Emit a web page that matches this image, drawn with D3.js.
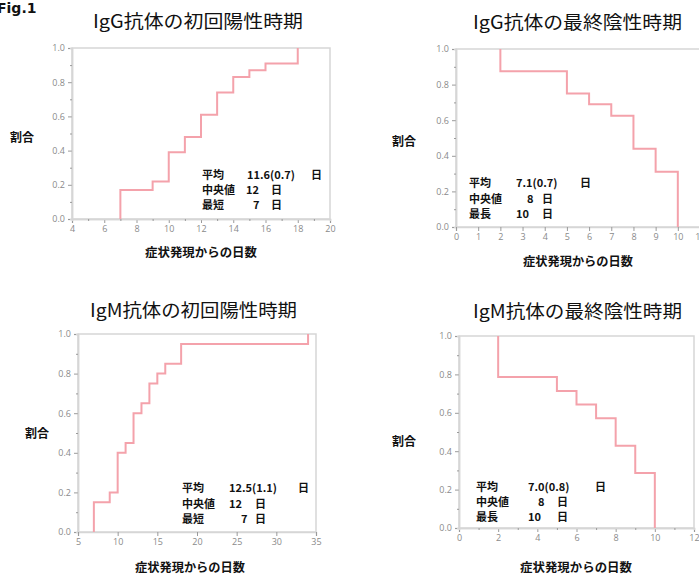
<!DOCTYPE html>
<html><head><meta charset="utf-8">
<script src="https://cdn.jsdelivr.net/npm/d3@7"></script>
<style>
html,body{margin:0;padding:0;background:#fff;overflow:hidden}
svg{display:block}
</style></head>
<body>
<svg id="c" width="699" height="579"></svg>
<script>
// ---- data ----
const titles = ["IgG抗体の初回陽性時期", "IgG抗体の最終陰性時期", "IgM抗体の初回陽性時期", "IgM抗体の最終陰性時期"];
const yLabel = "割合";
const xLabel = "症状発現からの日数";
const figLabel = "Fig.1";

// IgG first positive (cumulative, ascending)
const iggPosDays = [7, 9, 10, 11, 12, 13, 14, 15, 16, 18];
const iggPosRate = [0.17, 0.22, 0.39, 0.48, 0.61, 0.74, 0.83, 0.87, 0.91, 1.0];
// IgG last negative (descending)
const iggNegDays = [2, 5, 6, 7, 8, 9, 10];
const iggNegRate = [0.875, 0.75, 0.69, 0.625, 0.44, 0.31, 0.0];
// IgM first positive
const igmPosDays = [7, 9, 10, 11, 12, 13, 14, 15, 16, 18, 34];
const igmPosRate = [0.15, 0.20, 0.40, 0.45, 0.60, 0.65, 0.75, 0.80, 0.85, 0.95, 1.0];
// IgM last negative
const igmNegDays = [2, 5, 6, 7, 8, 9, 10];
const igmNegRate = [0.786, 0.714, 0.643, 0.571, 0.429, 0.286, 0.0];

const yTicks = [0, 0.2, 0.4, 0.6, 0.8, 1.0];
const xTicks1 = [4, 6, 8, 10, 12, 14, 16, 18, 20];
const xTicks2 = [0, 1, 2, 3, 4, 5, 6, 7, 8, 9, 10, 11];
const xTicks3 = [5, 10, 15, 20, 25, 30, 35];
const xTicks4 = [0, 2, 4, 6, 8, 10, 12];

const statNames1 = ["平均", "中央値", "最短"];
const statNames2 = ["平均", "中央値", "最長"];
const stats1 = ["11.6(0.7)", "12", "7"];
const stats2 = ["7.1(0.7)", "8", "10"];
const stats3 = ["12.5(1.1)", "12", "7"];
const stats4 = ["7.0(0.8)", "8", "10"];
const unit = "日";

// ---- layout ----
const panels = [
  {title: titles[0], days: iggPosDays, rate: iggPosRate, start: 0, xd: [4, 20], xr: [72, 330], yr: [219, 48],
   xt: xTicks1, minorX: true, tx: [93, 303], ty: 28, yl: [10, 142], xl: [145, 257, 257],
   names: statNames1, vals: stats1, sx: 202, sy: [179, 194, 209], vx: [247, 246, 253], ux: [311, 271, 271]},
  {title: titles[1], days: iggNegDays, rate: iggNegRate, start: 1, xd: [0, 11], xr: [456, 700], yr: [227, 49],
   xt: xTicks2, minorX: false, tx: [473, 682], ty: 29, yl: [392, 146], xl: [523, 633, 266],
   names: statNames2, vals: stats2, sx: 469, sy: [187, 203, 218], vx: [516, 527, 516], ux: [580, 542, 542]},
  {title: titles[2], days: igmPosDays, rate: igmPosRate, start: 0, xd: [5, 35], xr: [78, 316], yr: [532, 334],
   xt: xTicks3, minorX: false, tx: [90, 297], ty: 317, yl: [25, 438], xl: [135, 245, 572],
   names: statNames1, vals: stats3, sx: 182, sy: [492, 508, 523], vx: [229, 229, 241], ux: [298, 255, 255]},
  {title: titles[3], days: igmNegDays, rate: igmNegRate, start: 1, xd: [0, 12], xr: [459, 694], yr: [528, 336],
   xt: xTicks4, minorX: true, tx: [473, 682], ty: 318, yl: [392, 446], xl: [520, 632, 572],
   names: statNames2, vals: stats4, sx: 476, sy: [491, 506, 521], vx: [528, 538, 528], ux: [595, 557, 557]}
];

const svg = d3.select("#c");
const CJK = "'Noto Sans CJK JP', 'Noto Sans', sans-serif";
const frameCol = "#d6d6d6";
const tickCol = "#9a9a9a";
const lineCol = "#f4a2ab";

svg.append("text").attr("x", -3).attr("y", 13)
  .attr("font-family", "'DejaVu Sans', sans-serif").attr("font-weight", "bold")
  .attr("font-size", 14).attr("fill", "#111").text(figLabel);

panels.forEach(p => {
  const x = d3.scaleLinear().domain(p.xd).range(p.xr);
  const y = d3.scaleLinear().domain([0, 1]).range(p.yr);
  const g = svg.append("g");

  // frame
  g.append("rect").attr("x", p.xr[0]).attr("y", p.yr[1])
    .attr("width", p.xr[1] - p.xr[0]).attr("height", p.yr[0] - p.yr[1])
    .attr("fill", "none").attr("stroke", frameCol).attr("stroke-width", 1.5);

  // y axis
  const ya = d3.axisLeft(y).tickValues(yTicks).tickFormat(d3.format(".1f")).tickSize(4).tickPadding(3);
  const yg = g.append("g").attr("transform", `translate(${p.xr[0]},0)`).call(ya);
  // minor y
  const ym = d3.axisLeft(y).tickValues(d3.range(0.1, 1, 0.2)).tickFormat("").tickSize(2);
  const ymg = g.append("g").attr("transform", `translate(${p.xr[0]},0)`).call(ym);

  // x axis
  const xa = d3.axisBottom(x).tickValues(p.xt).tickFormat(d3.format("d")).tickSize(4).tickPadding(3);
  const xg = g.append("g").attr("transform", `translate(0,${p.yr[0]})`).call(xa);
  let xmg = null;
  if (p.minorX) {
    const mv = d3.range(p.xd[0] + 1, p.xd[1], 2);
    xmg = g.append("g").attr("transform", `translate(0,${p.yr[0]})`)
      .call(d3.axisBottom(x).tickValues(mv).tickFormat("").tickSize(2));
  }
  [yg, ymg, xg, xmg].forEach(a => {
    if (!a) return;
    a.select(".domain").attr("stroke", frameCol).attr("stroke-width", 1.5);
    a.selectAll(".tick line").attr("stroke", tickCol);
    a.selectAll(".tick text").attr("fill", "#8a8a8a").attr("font-size", 9)
      .attr("font-family", "'Open Sans', 'DejaVu Sans', sans-serif");
  });

  // step line
  const pts = [[p.days[0], p.start]].concat(p.days.map((d, i) => [d, p.rate[i]]));
  const line = d3.line().x(d => x(d[0])).y(d => y(d[1])).curve(d3.curveStepAfter);
  g.append("path").datum(pts).attr("d", line)
    .attr("fill", "none").attr("stroke", lineCol).attr("stroke-width", 2);

  // title
  g.append("text").attr("x", p.tx[0]).attr("y", p.ty)
    .attr("textLength", p.tx[1] - p.tx[0]).attr("lengthAdjust", "spacingAndGlyphs")
    .attr("font-family", CJK).attr("font-size", 18).attr("fill", "#111").text(p.title);

  // y label
  g.append("text").attr("x", p.yl[0]).attr("y", p.yl[1])
    .attr("font-family", CJK).attr("font-weight", "bold").attr("font-size", 12)
    .attr("fill", "#111").text(yLabel);

  // x label
  g.append("text").attr("x", p.xl[0]).attr("y", p.xl[2])
    .attr("textLength", p.xl[1] - p.xl[0]).attr("lengthAdjust", "spacingAndGlyphs")
    .attr("font-family", CJK).attr("font-weight", "bold").attr("font-size", 12)
    .attr("fill", "#111").text(xLabel);

  // stats
  p.names.forEach((n, i) => {
    const st = {"font-family": CJK, "font-weight": "bold", "font-size": 11, "fill": "#111"};
    const t1 = g.append("text").attr("x", p.sx).attr("y", p.sy[i]).text(n);
    const t2 = g.append("text").attr("x", p.vx[i]).attr("y", p.sy[i]).text(p.vals[i]);
    const t3 = g.append("text").attr("x", p.ux[i]).attr("y", p.sy[i]).text(unit);
    [t1, t2, t3].forEach(t => Object.entries(st).forEach(([k, v]) => t.attr(k, v)));
  });
});
</script>
</body></html>
